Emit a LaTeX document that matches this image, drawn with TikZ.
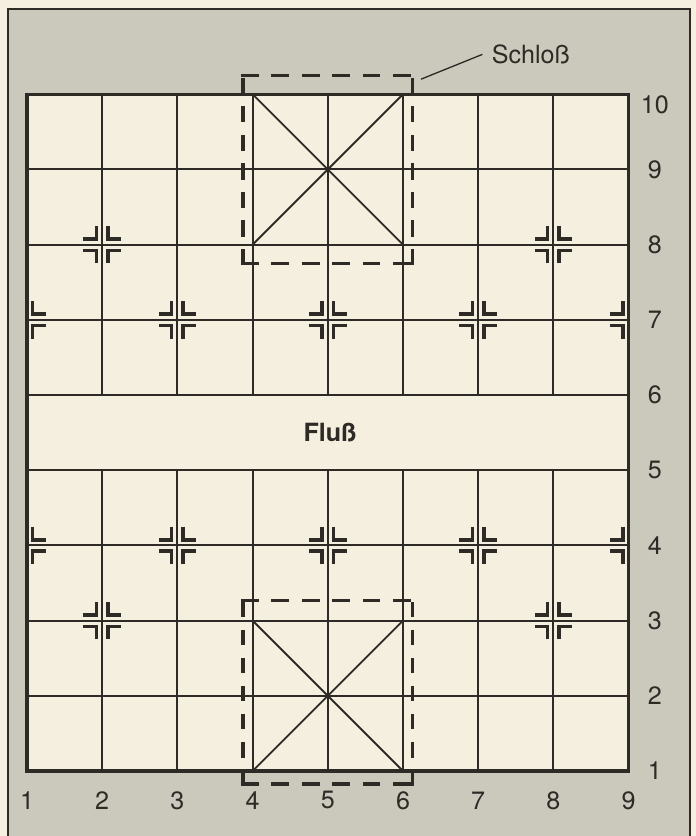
\documentclass[tikz,border=0pt]{standalone}
\usepackage{fontspec}
\setmainfont{TeX Gyre Heros}
\usetikzlibrary{positioning}

\definecolor{paper}{HTML}{F4EFDE}
\definecolor{greyback}{HTML}{CBC8BC}
\definecolor{ink}{HTML}{2E2A26}

\tikzset{
  gridline/.style={ink, line width=0.7pt},
  boardedge/.style={ink, line width=1.2pt},
  palacehor/.style={ink, line width=1.3pt, line cap=rect, dash pattern=on 5.4pt off 6.1pt},
  palacever/.style={ink, line width=1.3pt, line cap=rect, dash pattern=on 4.8pt off 6pt},
  posmark/.style={ink, line width=1.3pt},
  numlabel/.style={font=\fontsize{9.5}{11}\selectfont, text=ink},
}

\begin{document}
\begin{tikzpicture}
  \useasboundingbox (-0.359,-0.864) rectangle (8.896,10.253);
  \fill[paper] (-0.359,-0.864) rectangle (8.896,10.253);

  % Grey frame round the board
  \fill[greyback] (-0.253,-1) rectangle (8.816,10.13);
  \draw[ink, line width=0.8pt] (-0.253,-1) -- (-0.253,10.13) -- (8.816,10.13) -- (8.816,-1);

  % Board
  \fill[paper] (0,0) rectangle (8,9);
  \foreach \y in {1,...,8} {
    \draw[gridline] (0,\y) -- (8,\y);
  }
  \foreach \x in {1,...,7} {
    \draw[gridline] (\x,0) -- (\x,4);
    \draw[gridline] (\x,5) -- (\x,9);
  }
  \draw[boardedge] (0,0) rectangle (8,9);

  % Palace diagonals
  \draw[gridline] (3,0) -- (5,2);
  \draw[gridline] (5,0) -- (3,2);
  \draw[gridline] (3,7) -- (5,9);
  \draw[gridline] (5,7) -- (3,9);

  % Dashed palace outlines
  \draw[palacehor] (2.87,9.25) -- (5.13,9.25);
  \draw[palacehor] (2.87,6.75) -- (5.13,6.75);
  \draw[palacever] (2.87,6.75) -- (2.87,9.25);
  \draw[palacever] (5.13,6.75) -- (5.13,9.25);
  \draw[palacehor] (2.87,2.27) -- (5.13,2.27);
  \draw[palacehor] (2.87,-0.17) -- (5.13,-0.17);
  \draw[palacever, dash pattern=on 4.6pt off 6pt] (2.87,-0.17) -- (2.87,2.27);
  \draw[palacever, dash pattern=on 4.6pt off 6pt] (5.13,-0.17) -- (5.13,2.27);

  % Position marks: four corners at inner points
  \foreach \x/\y in {1/7,7/7,2/6,4/6,6/6,2/3,4/3,6/3,1/2,7/2} {
    \foreach \sx in {-1,1} {
      \foreach \sy in {-1,1} {
        \draw[posmark] ([shift={(\sx*0.075,\sy*0.25)}]\x,\y) -- ++(0,-\sy*0.175) -- ++(\sx*0.175,0);
      }
    }
  }
  % only the inner half at the edges
  \foreach \x/\sx in {0/1,8/-1} {
    \foreach \y in {6,3} {
      \foreach \sy in {-1,1} {
        \draw[posmark] ([shift={(\sx*0.075,\sy*0.25)}]\x,\y) -- ++(0,-\sy*0.175) -- ++(\sx*0.175,0);
      }
    }
  }

  % Labels
  \node[font=\fontsize{9.5}{11}\selectfont\bfseries, text=ink] (river) at (4.03,4.5) {Fluß};
  \node[numlabel] (castle) at (6.70,9.53) {Schloß};
  \coordinate (castlecorner) at (5.24,9.20);
  \draw[ink, line width=0.5pt] (castlecorner) -- (castle.west);

  \foreach \x in {1,...,9} {
    \node[numlabel] (col\x) at (\x-1,-0.39) {\x};
  }
  \foreach \y in {1,...,9} {
    \node[numlabel] (row\y) at (8.35,\y-1) {\y};
  }
  \node[numlabel] (row10) at (8.35,8.86) {10};
\end{tikzpicture}
\end{document}
